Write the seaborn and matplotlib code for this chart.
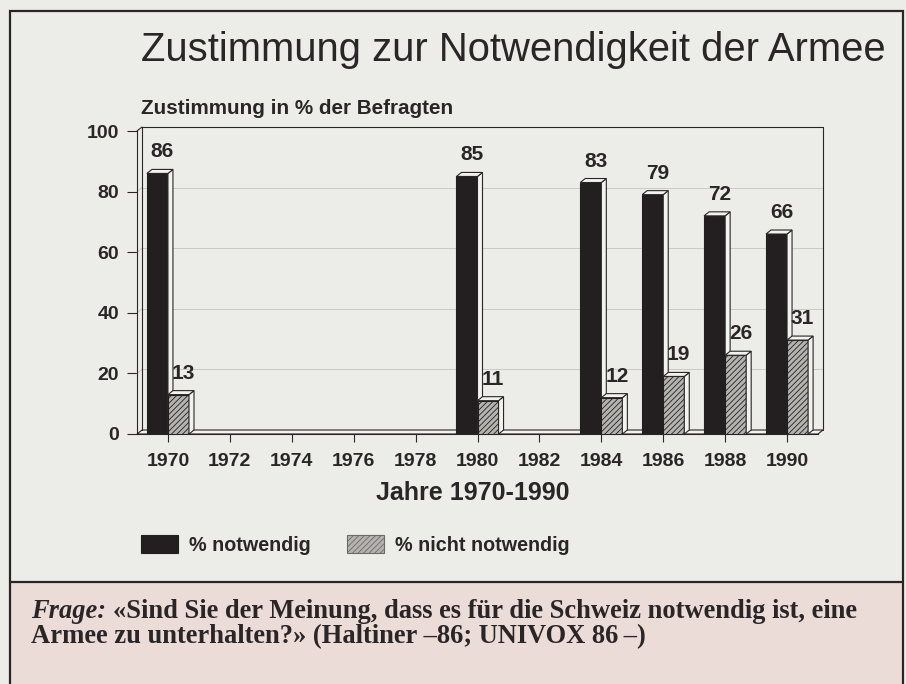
import numpy as np
import pandas as pd
import matplotlib
matplotlib.use("Agg")
import matplotlib.pyplot as plt
import seaborn as sns
from matplotlib.patches import Polygon, Rectangle, Patch
from matplotlib.lines import Line2D

# ---------------- data ----------------
years = ["1970", "1972", "1974", "1976", "1978", "1980", "1982", "1984", "1986", "1988", "1990"]
notwendig = [86, np.nan, np.nan, np.nan, np.nan, 85, np.nan, 83, 79, 72, 66]
nicht_notwendig = [13, np.nan, np.nan, np.nan, np.nan, 11, np.nan, 12, 19, 26, 31]
series_names = ["% notwendig", "% nicht notwendig"]
yticks = [0, 20, 40, 60, 80, 100]

title = "Zustimmung zur Notwendigkeit der Armee"
ylabel = "Zustimmung in % der Befragten"
xlabel = "Jahre 1970-1990"
frage_it = "Frage:"
frage_1 = "\u00abSind Sie der Meinung, dass es f\u00fcr die Schweiz notwendig ist, eine"
frage_2 = "Armee zu unterhalten?\u00bb (Haltiner \u201386; UNIVOX 86\u2009\u2013)"

# ---------------- style ----------------
INK = "#2a2527"
DARK = "#231f20"
GRAYBAR = "#b4b3b0"
BG = "#ecece8"
PINK = "#ecdcd8"
FACE = "#f2f2ee"
W, H = 906, 684

sns.set_theme(style="white")
plt.rcParams["font.family"] = ["Liberation Sans", "DejaVu Sans"]
plt.rcParams["hatch.color"] = "#4a4a4a"
plt.rcParams["hatch.linewidth"] = 0.6

fig = plt.figure(figsize=(W / 100, H / 100), dpi=100)
fig.patch.set_facecolor(BG)

# pink question box + frame
fig.patches.append(Rectangle((10 / W, 0), (903 - 10) / W, 1 - 582 / H, transform=fig.transFigure,
                             facecolor=PINK, edgecolor="none", zorder=0))
fig.patches.append(Rectangle((10 / W, -0.01), (903 - 10) / W, 1.01 - 11 / H, transform=fig.transFigure,
                             facecolor="none", edgecolor=INK, lw=1.6, zorder=1))
fig.lines.append(Line2D([10 / W, 903 / W], [1 - 582 / H] * 2, transform=fig.transFigure, color=INK, lw=1.6))

# axes
x0p, x1p, y0p, y1p = 137, 818, 434, 131
ax = fig.add_axes([x0p / W, 1 - y0p / H, (x1p - x0p) / W, (y0p - y1p) / H])
ax.set_facecolor("none")

df = pd.DataFrame({
    "year": years * 2,
    "value": notwendig + nicht_notwendig,
    "series": [series_names[0]] * len(years) + [series_names[1]] * len(years),
}).dropna()

sns.barplot(data=df, x="year", y="value", hue="series", order=years, hue_order=series_names,
            palette=[DARK, GRAYBAR], width=0.68, saturation=1, edgecolor=DARK, linewidth=0.8,
            legend=False, ax=ax)

ax.set_xlim(-0.5, len(years) - 0.5)
ax.set_ylim(0, 100)

# depth of the 3D effect in data units
DX = 5 / ((x1p - x0p) / len(years))
DY = 4 / ((y0p - y1p) / 100)

# back wall, floor, grid
xl, xr = -0.5, len(years) - 0.5
ax.add_patch(Polygon([(xl, 0), (xl + DX, DY), (xr + DX, DY), (xr, 0)], closed=True,
                     facecolor=FACE, edgecolor=INK, lw=0.8, clip_on=False, zorder=1))
ax.plot([xl + DX, xl + DX, xr + DX, xr + DX], [DY, 100 + DY, 100 + DY, DY], color=INK, lw=0.8,
        clip_on=False, zorder=1)
ax.plot([xl, xl + DX], [100, 100 + DY], color=INK, lw=0.8, clip_on=False, zorder=1)
for yv in yticks[1:-1]:
    ax.plot([xl + DX, xr + DX], [yv + DY, yv + DY], color="#c9c9c5", lw=0.7, clip_on=False, zorder=0.8)
    ax.plot([xl, xl + DX], [yv, yv + DY], color="#c9c9c5", lw=0.7, clip_on=False, zorder=0.8)

# bars: z-order, hatch, 3D faces, labels
for ci, cont in enumerate(ax.containers):
    for bar in cont:
        h = bar.get_height()
        if not np.isfinite(h):
            continue
        bar.set_zorder(3 + ci)
        if ci == 1:
            bar.set_hatch("//////")
        bx0 = bar.get_x()
        bx1 = bx0 + bar.get_width()
        top = Polygon([(bx0, h), (bx0 + DX, h + DY), (bx1 + DX, h + DY), (bx1, h)], closed=True,
                      facecolor=FACE, edgecolor=INK, lw=0.8, zorder=3.1 + ci, clip_on=False)
        side = Polygon([(bx1, 0), (bx1 + DX, DY), (bx1 + DX, h + DY), (bx1, h)], closed=True,
                       facecolor=FACE, edgecolor=INK, lw=0.8, zorder=3.1 + ci, clip_on=False)
        ax.add_patch(side)
        ax.add_patch(top)
        ax.annotate(f"{h:.0f}", (bx0 + bar.get_width() / 2, h), xytext=(5, 12),
                    textcoords="offset pixels", ha="center", va="bottom",
                    fontsize=15, fontweight="bold", color=INK, zorder=6, annotation_clip=False)

# axes decoration
sns.despine(ax=ax, top=True, right=True)
ax.spines["left"].set_color(INK)
ax.spines["bottom"].set_color(INK)
ax.spines["left"].set_linewidth(0.8)
ax.spines["bottom"].set_linewidth(0.8)
ax.spines["bottom"].set_zorder(2)
ax.set_yticks(yticks)
ax.set_yticklabels([str(v) for v in yticks])
ax.tick_params(axis="y", direction="out", length=7, width=0.8, color=INK, pad=6,
               labelsize=14, labelcolor=INK, left=True)
ax.tick_params(axis="x", direction="out", length=6, width=0.8, color=INK, pad=8,
               labelsize=14, labelcolor=INK, bottom=True)
for lab in ax.get_xticklabels() + ax.get_yticklabels():
    lab.set_fontweight("bold")
ax.set_xlabel("")
ax.set_ylabel("")
ax.grid(False)

# texts
fig.text(513 / W, 1 - 50 / H, title, fontsize=28.8, ha="center", va="center", color=INK)
fig.text(141 / W, 1 - 108 / H, ylabel, fontsize=14.9, fontweight="bold", ha="left", va="center", color=INK)
fig.text(473 / W, 1 - 493 / H, xlabel, fontsize=18, fontweight="bold", ha="center", va="center", color=INK)

# legend
handles = [Patch(facecolor=DARK, edgecolor=DARK, lw=0.8),
           Patch(facecolor=GRAYBAR, edgecolor="#6a6a6a", hatch="//////", lw=0.8)]
leg = fig.legend(handles, series_names, loc="center left", bbox_to_anchor=(141 / W, 1 - 545 / H),
                 ncol=2, frameon=False, borderpad=0, borderaxespad=0, handlelength=1.9,
                 handleheight=1.0, handletextpad=0.55, columnspacing=1.8,
                 prop={"family": "Liberation Sans", "weight": "bold", "size": 14.2})
for t in leg.get_texts():
    t.set_color(INK)

# question text
serif = ["Liberation Serif", "DejaVu Serif"]
t_it = fig.text(31 / W, 1 - 611 / H, frage_it, fontsize=19.1, fontweight="bold", fontstyle="italic",
                family=serif, ha="left", va="center", color=INK)
fig.canvas.draw()
bb = t_it.get_window_extent(renderer=fig.canvas.get_renderer())
fig.text((bb.x1 + 7) / W, 1 - 611 / H, frage_1, fontsize=19.1, fontweight="bold", family=serif,
         ha="left", va="center", color=INK)
fig.text(31 / W, 1 - 637 / H, frage_2, fontsize=19.1, fontweight="bold", family=serif,
         ha="left", va="center", color=INK)

fig.savefig("out.png", dpi=100, facecolor=BG)
